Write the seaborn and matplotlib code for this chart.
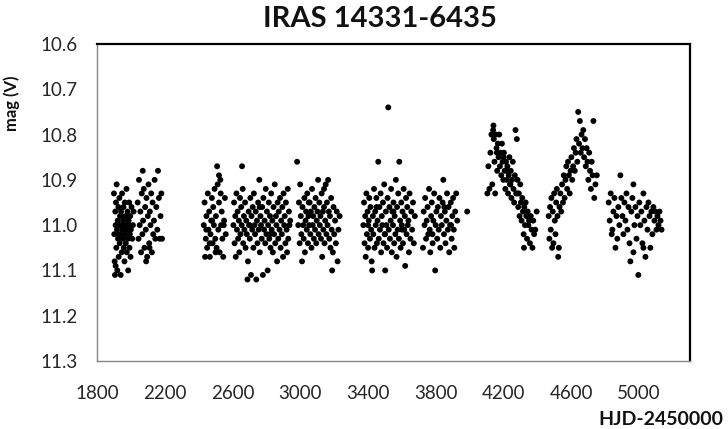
import pandas as pd
import numpy as np
import matplotlib
matplotlib.use('Agg')
import matplotlib.pyplot as plt
import seaborn as sns

# ============================================================================
# Data (one pair of lists per observing season)
# ============================================================================

hjd_1 = [1900, 1902, 1904, 1906, 1908, 1910, 1912, 1914, 1916, 1918,
         1920, 1922, 1924, 1926, 1928, 1930, 1932, 1934, 1936, 1938,
         1940, 1942, 1944, 1946, 1948, 1950, 1952, 1954, 1956, 1958,
         1960, 1962, 1964, 1966, 1968, 1970, 1972, 1974, 1976, 1978,
         1980, 1982, 1984, 1986, 1988, 1990, 1992, 1994, 1996, 1998,
         2000, 2004, 2008, 2012, 2016, 1910, 1925, 1945, 1965, 1985]
mag_1 = [10.93, 11.02, 11.08, 11.11, 10.97, 11.00, 10.95, 11.05, 10.91, 11.01,
         11.10, 10.99, 11.03, 10.96, 11.07, 11.00, 10.94, 11.04, 10.98, 11.02,
         11.11, 10.97, 11.00, 11.06, 10.93, 11.01, 11.03, 10.99, 10.96, 11.05,
         11.00, 11.08, 10.95, 11.02, 10.98, 11.04, 11.00, 10.92, 11.06, 11.01,
         10.97, 11.03, 11.10, 10.99, 11.00, 10.95, 11.05, 11.02, 10.98, 11.07,
         11.01, 10.96, 11.03, 11.00, 10.97, 11.09, 11.02, 10.98, 11.01, 10.99]

hjd_1b = [2040, 2045, 2048, 2052, 2056, 2060, 2064, 2068, 2072, 2076,
          2080, 2084, 2088, 2092, 2096, 2100, 2104, 2108, 2112, 2116,
          2120, 2124, 2128, 2132, 2136, 2140, 2144, 2150, 2156, 2160,
          2165, 2170, 2175, 2180, 2090, 2110, 2070, 2184]
mag_1b = [10.95, 11.03, 10.90, 11.00, 10.97, 11.06, 10.93, 11.02, 10.99, 10.92,
          11.05, 10.96, 11.01, 10.94, 11.07, 10.98, 10.91, 11.04, 10.97, 11.00,
          10.93, 11.06, 10.95, 11.02, 10.99, 10.90, 11.03, 10.96, 11.01, 10.88,
          10.94, 11.03, 10.98, 10.93, 11.08, 11.05, 10.88, 11.03]

hjd_2 = [2430, 2435, 2438, 2442, 2446, 2450, 2454, 2458, 2462, 2466,
         2470, 2474, 2478, 2482, 2486, 2490, 2494, 2498, 2502, 2506,
         2509, 2512, 2516, 2520, 2524, 2528, 2532, 2536, 2540, 2545,
         2550, 2555, 2560, 2520, 2500, 2480, 2465, 2445, 2530, 2548]
mag_2 = [11.00, 10.95, 11.07, 11.03, 10.98, 11.05, 10.93, 11.01, 10.97, 11.07,
         11.02, 10.99, 10.94, 11.04, 10.96, 11.00, 10.92, 11.03, 10.98, 11.05,
         10.87, 10.91, 11.01, 10.95, 11.06, 10.90, 11.00, 10.97, 11.03, 11.07,
         10.99, 10.94, 11.02, 10.89, 11.06, 10.99, 11.04, 11.01, 10.93, 11.00]

hjd_3 = [2605, 2609, 2612, 2616, 2619, 2623, 2626, 2630, 2633, 2637,
         2640, 2644, 2647, 2651, 2654, 2656, 2660, 2663, 2667, 2670,
         2674, 2677, 2681, 2684, 2688, 2691, 2695, 2698, 2702, 2705,
         2709, 2712, 2716, 2719, 2723, 2726, 2730, 2733, 2737, 2740,
         2744, 2747, 2751, 2754, 2758, 2761, 2765, 2768, 2772, 2775,
         2779, 2782, 2786, 2789, 2793, 2796, 2800, 2803, 2807, 2810,
         2814, 2817, 2821, 2824, 2828, 2831, 2835, 2838, 2842, 2845,
         2849, 2852, 2856, 2859, 2863, 2866, 2870, 2873, 2877, 2880,
         2884, 2887, 2891, 2894, 2898, 2901, 2905, 2908, 2912, 2915,
         2919, 2922, 2926, 2929, 2933, 2936, 2940, 2700, 2760, 2820]
mag_3 = [11.00, 10.95, 11.04, 10.98, 11.07, 10.93, 11.01, 10.97, 11.03, 10.99,
         11.06, 10.94, 11.02, 10.96, 11.00, 10.87, 10.92, 11.04, 10.98, 11.01,
         10.95, 11.05, 10.99, 11.02, 11.12, 11.08, 10.97, 11.00, 11.03, 10.94,
         11.11, 10.98, 11.01, 10.96, 11.05, 10.93, 11.00, 11.02, 10.97, 11.12,
         10.99, 11.04, 10.95, 11.01, 10.90, 11.06, 10.98, 11.00, 11.03, 10.96,
         11.11, 10.94, 11.01, 10.99, 11.04, 10.92, 11.02, 10.97, 11.10, 11.00,
         10.95, 11.03, 10.98, 11.05, 10.93, 11.01, 10.99, 11.06, 10.96, 11.02,
         10.91, 11.04, 10.98, 11.00, 11.08, 10.95, 11.03, 10.97, 11.01, 10.94,
         11.05, 10.99, 11.02, 10.96, 11.07, 10.93, 11.00, 10.98, 11.04, 10.95,
         11.01, 11.06, 10.92, 11.03, 10.97, 11.00, 10.99, 11.00, 10.96, 11.02]

hjd_4 = [2981, 2988, 2992, 2996, 2999, 3003, 3006, 3010, 3013, 3017,
         3020, 3024, 3027, 3031, 3034, 3038, 3041, 3045, 3048, 3052,
         3055, 3059, 3062, 3066, 3069, 3073, 3076, 3080, 3083, 3087,
         3090, 3094, 3097, 3101, 3105, 3108, 3112, 3115, 3119, 3122,
         3126, 3129, 3133, 3136, 3140, 3143, 3147, 3150, 3154, 3157,
         3161, 3164, 3168, 3171, 3175, 3178, 3182, 3185, 3188, 3192,
         3196, 3200, 3205, 3210, 3215, 3220, 3225, 3232, 3050, 3140]
mag_4 = [10.86, 11.00, 10.95, 11.04, 10.91, 10.98, 11.02, 11.08, 10.96, 11.00,
         11.03, 10.94, 11.06, 10.99, 10.97, 11.01, 10.93, 11.04, 10.98, 11.00,
         10.95, 11.02, 10.97, 11.05, 10.92, 11.00, 10.98, 11.03, 10.96, 11.01,
         10.94, 11.04, 10.99, 10.97, 10.90, 11.02, 10.95, 11.00, 10.98, 11.03,
         10.93, 11.07, 10.97, 11.01, 10.96, 11.04, 10.99, 10.91, 11.02, 10.95,
         11.00, 10.90, 10.97, 11.03, 10.98, 11.05, 10.94, 11.01, 11.10, 11.06,
         10.96, 11.02, 10.99, 11.04, 10.97, 11.08, 11.01, 10.98, 10.95, 10.92]

hjd_5 = [3372, 3376, 3379, 3383, 3386, 3390, 3393, 3397, 3400, 3404,
         3407, 3411, 3414, 3418, 3421, 3424, 3428, 3431, 3435, 3438,
         3442, 3445, 3449, 3452, 3456, 3460, 3463, 3467, 3470, 3474,
         3477, 3481, 3484, 3488, 3491, 3495, 3498, 3501, 3505, 3508,
         3512, 3515, 3519, 3522, 3526, 3529, 3533, 3536, 3540, 3543,
         3547, 3550, 3554, 3557, 3561, 3564, 3568, 3571, 3575, 3578,
         3582, 3584, 3589, 3592, 3596, 3599, 3603, 3606, 3610, 3613,
         3617, 3619, 3624, 3627, 3631, 3634, 3638, 3641, 3645, 3650,
         3655, 3660, 3665, 3670, 3676, 3400, 3450, 3500, 3550, 3600]
mag_5 = [11.00, 10.95, 11.04, 10.98, 11.07, 10.93, 11.02, 10.97, 11.05, 10.99,
         10.94, 11.03, 10.96, 11.01, 11.08, 11.10, 10.98, 11.02, 10.92, 11.05,
         10.97, 11.00, 10.94, 11.04, 10.99, 10.86, 11.03, 10.96, 11.01, 10.93,
         11.06, 10.98, 11.00, 10.95, 11.04, 10.91, 11.02, 11.10, 10.97, 11.00,
         11.05, 10.94, 10.74, 11.01, 10.96, 11.03, 10.99, 10.92, 11.06, 10.97,
         11.00, 10.95, 11.04, 10.98, 11.02, 10.90, 11.07, 10.96, 11.01, 10.93,
         11.03, 10.86, 10.99, 11.05, 10.95, 11.00, 10.97, 11.04, 10.92, 11.01,
         10.98, 11.09, 10.94, 11.02, 10.96, 11.00, 10.99, 11.06, 10.93, 11.03,
         10.97, 11.01, 10.95, 11.04, 10.98, 11.00, 10.96, 11.02, 10.97, 11.01]

hjd_6 = [3724, 3728, 3733, 3737, 3742, 3746, 3751, 3755, 3760, 3764,
         3767, 3772, 3776, 3781, 3785, 3790, 3796, 3799, 3803, 3808,
         3812, 3817, 3821, 3826, 3830, 3835, 3840, 3844, 3848, 3853,
         3857, 3862, 3866, 3871, 3875, 3879, 3884, 3888, 3893, 3897,
         3902, 3906, 3909, 3914, 3920, 3926, 3985, 3780, 3850, 3890]
mag_6 = [11.05, 10.97, 11.00, 10.94, 11.03, 10.99, 10.96, 11.02, 10.92, 11.01,
         11.06, 10.98, 10.95, 11.04, 10.99, 10.93, 11.10, 11.00, 10.97, 11.03,
         10.96, 11.01, 10.94, 11.05, 10.98, 11.00, 10.95, 10.90, 11.02, 10.97,
         11.04, 10.99, 10.93, 11.01, 10.96, 11.06, 11.00, 10.95, 11.03, 10.98,
         10.94, 11.01, 11.05, 10.97, 10.93, 10.99, 10.97, 11.02, 10.96, 11.00]

hjd_7 = [4104, 4110, 4116, 4122, 4128, 4133, 4138, 4142, 4146, 4150,
         4154, 4158, 4162, 4166, 4170, 4174, 4178, 4182, 4186, 4190,
         4194, 4198, 4202, 4206, 4210, 4214, 4218, 4222, 4226, 4230,
         4234, 4238, 4242, 4246, 4250, 4254, 4258, 4262, 4266, 4270,
         4274, 4278, 4282, 4286, 4290, 4294, 4298, 4302, 4306, 4310,
         4314, 4318, 4322, 4326, 4330, 4334, 4338, 4342, 4346, 4350,
         4355, 4360, 4365, 4370, 4375, 4380, 4387, 4395, 4140, 4200,
         4240, 4280, 4320, 4160, 4220]
mag_7 = [10.93, 10.87, 10.92, 10.84, 10.80, 10.91, 10.79, 10.81, 10.86, 10.93,
         10.80, 10.83, 10.88, 10.82, 10.85, 10.80, 10.87, 10.84, 10.89, 10.82,
         10.86, 10.90, 10.84, 10.88, 10.92, 10.86, 10.90, 10.87, 10.93, 10.89,
         10.85, 10.91, 10.88, 10.94, 10.90, 10.86, 10.92, 10.95, 10.89, 10.79,
         10.93, 10.81, 10.90, 10.96, 10.93, 10.98, 10.91, 10.95, 10.99, 10.94,
         10.97, 11.02, 10.96, 11.00, 10.95, 10.98, 11.03, 10.97, 11.00, 10.99,
         11.04, 10.98, 11.01, 11.05, 10.99, 11.02, 11.01, 10.97, 10.78, 10.85,
         10.91, 10.93, 11.05, 10.84, 10.88]

hjd_8 = [4466, 4470, 4474, 4478, 4482, 4486, 4490, 4494, 4498, 4502,
         4506, 4510, 4514, 4518, 4522, 4526, 4530, 4535, 4540, 4545,
         4550, 4555, 4560, 4565, 4570, 4575, 4580, 4585, 4590, 4595,
         4600, 4605, 4610, 4615, 4620, 4625, 4630, 4635, 4640, 4645,
         4650, 4655, 4660, 4665, 4670, 4675, 4680, 4685, 4690, 4695,
         4700, 4705, 4710, 4715, 4720, 4725, 4730, 4735, 4742, 4750]
mag_8 = [10.98, 11.03, 10.96, 11.01, 10.94, 11.05, 10.97, 11.04, 10.93, 10.99,
         11.02, 10.95, 10.92, 10.98, 11.07, 11.05, 10.96, 10.93, 10.97, 10.91,
         10.95, 10.89, 10.94, 10.90, 10.87, 10.92, 10.86, 10.89, 10.93, 10.88,
         10.85, 10.90, 10.87, 10.83, 10.88, 10.84, 10.81, 10.86, 10.75, 10.82,
         10.77, 10.84, 10.80, 10.83, 10.79, 10.85, 10.81, 10.87, 10.83, 10.86,
         10.90, 10.84, 10.88, 10.92, 10.86, 10.89, 10.77, 10.94, 10.91, 10.89]

hjd_9 = [4820, 4826, 4832, 4838, 4842, 4848, 4854, 4860, 4866, 4871,
         4877, 4883, 4889, 4895, 4901, 4907, 4913, 4919, 4925, 4931,
         4937, 4943, 4948, 4954, 4960, 4966, 4972, 4978, 4984, 4990,
         4995, 5001, 5007, 5013, 5019, 5025, 5031, 5037, 5043, 5049,
         5055, 5061, 5066, 5072, 5078, 5084, 5090, 5096, 5102, 5108,
         5114, 5120, 5126, 5132, 4966, 5025]
mag_9 = [10.95, 10.99, 10.93, 11.02, 11.01, 10.97, 10.94, 11.05, 10.98, 11.03,
         10.96, 11.00, 10.89, 10.94, 10.98, 11.02, 10.95, 10.99, 10.93, 11.01,
         10.96, 11.04, 11.08, 10.97, 10.94, 10.91, 11.00, 10.96, 11.03, 10.98,
         11.11, 10.95, 11.00, 10.97, 11.04, 10.93, 10.99, 11.07, 10.96, 11.01,
         10.95, 10.98, 11.05, 10.97, 11.02, 10.96, 10.99, 10.97, 11.01, 10.98,
         11.00, 10.97, 10.99, 11.01, 11.06, 11.05]

x_ticks = [1800, 2200, 2600, 3000, 3400, 3800, 4200, 4600, 5000]
y_ticks = [10.6, 10.7, 10.8, 10.9, 11.0, 11.1, 11.2, 11.3]

seasons = [(hjd_1, mag_1), (hjd_1b, mag_1b), (hjd_2, mag_2), (hjd_3, mag_3),
           (hjd_4, mag_4), (hjd_5, mag_5), (hjd_6, mag_6), (hjd_7, mag_7),
           (hjd_8, mag_8), (hjd_9, mag_9)]
df = pd.concat([pd.DataFrame({'hjd': h, 'mag': m}) for h, m in seasons],
               ignore_index=True)

# ============================================================================
# Plot
# ============================================================================

sns.set_style('white')
plt.rcParams['font.family'] = ['Lato', 'DejaVu Sans']

W, H = 728, 429
fig = plt.figure(figsize=(W / 100, H / 100), dpi=100)
ax = fig.add_axes([97 / W, 1 - 361 / H, (690 - 97) / W, (361 - 44) / H])

sns.scatterplot(data=df, x='hjd', y='mag', color='black', s=18,
                edgecolor='none', linewidth=0, legend=False, ax=ax)

ax.set_xlim(1800, 5300)
ax.set_ylim(11.3, 10.6)
ax.set_xticks(x_ticks)
ax.set_yticks(y_ticks)
ax.set_yticklabels([f'{v:.1f}' for v in y_ticks])
ax.set_xlabel('')
ax.set_ylabel('')

ax.tick_params(axis='both', direction='out', length=6, width=1,
               color='#868686', labelcolor='#262626', labelsize=13.5)
ax.tick_params(axis='y', pad=8)
ax.tick_params(axis='x', pad=11)

for side in ['left', 'bottom']:
    ax.spines[side].set_color('#868686')
    ax.spines[side].set_linewidth(1.0)
for side in ['top', 'right']:
    ax.spines[side].set_color('black')
    ax.spines[side].set_linewidth(1.6)

fig.text(380 / W, 1 - 27 / H, 'IRAS 14331-6435', ha='center', va='baseline',
         fontsize=21, fontweight='bold', color='#111111')
fig.text(12 / W, 1 - 103 / H, 'mag (V)', ha='center', va='center',
         rotation=90, fontsize=12, fontweight='bold', color='#111111')
fig.text(723 / W, 1 - 425 / H, 'HJD-2450000', ha='right', va='baseline',
         fontsize=14, fontweight='bold', color='#111111')

plt.savefig('out.png', dpi=100, facecolor='white')
